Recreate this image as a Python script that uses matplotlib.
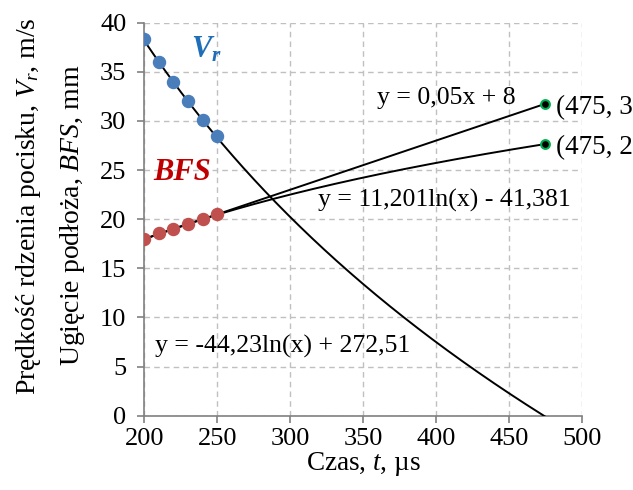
import numpy as np
import matplotlib
matplotlib.use("Agg")
import matplotlib.pyplot as plt

plt.rcParams['font.family'] = ['Liberation Serif', 'DejaVu Serif']
plt.rcParams['mathtext.fontset'] = 'custom'
plt.rcParams['mathtext.rm'] = 'Liberation Serif'
plt.rcParams['mathtext.it'] = 'Liberation Serif:italic'
plt.rcParams['mathtext.bf'] = 'Liberation Serif:bold:italic'

# measured points
t = [200, 210, 220, 230, 240, 250]
vr = [38.3, 36.0, 34.0, 32.0, 30.1, 28.5]
bfs = [18.0, 18.6, 19.0, 19.5, 20.0, 20.5]

# trend line coefficients (as printed on the chart)
vr_a, vr_b = -44.23, 272.51        # y = a ln(x) + b
lin_a, lin_b = 0.05, 8.0           # y = a x + b
log_a, log_b = 11.201, -41.381     # y = a ln(x) + b
t_end = 475

end_pts_x = [475, 475]
end_pts_y = [31.75, 27.65]
end_labels = ['(475, 31,75)', '(475, 27,65)']

xs = np.linspace(200, t_end, 300)

fig = plt.figure(figsize=(6.33, 4.9), dpi=100)
ax = fig.add_axes([0.228, 0.1516, 0.691, 0.802])

ax.plot(xs, vr_a * np.log(xs) + vr_b, color='black', lw=1.4, zorder=3)
ax.plot(xs, lin_a * xs + lin_b, color='black', lw=1.4, zorder=3)
ax.plot(xs, log_a * np.log(xs) + log_b, color='black', lw=1.4, zorder=3)

ax.scatter(t, vr, s=75, color='#4a7ebb', zorder=4)
ax.scatter(t, bfs, s=75, color='#c0504d', zorder=4)
ax.scatter(end_pts_x, end_pts_y, s=40, color='black', edgecolors='#00b050',
           linewidths=1.5, zorder=5)
for x, y, lab in zip(end_pts_x, end_pts_y, end_labels):
    ax.text(x + 7.5, y - 0.4, lab, fontsize=19.5, va='center', ha='left',
            clip_on=False)

ax.text(243, 37.3, r'$\mathbf{V_r}$', color='#1f6fb8', fontsize=22,
        ha='center', va='center')
ax.text(226, 24.8, 'BFS', color='#c00000', fontsize=22, fontweight='bold',
        fontstyle='italic', ha='center', va='center')

ax.text(359.5, 32.3, 'y = 0,05x + 8', fontsize=18.5, va='center')
ax.text(319, 21.9, 'y = 11,201ln(x) - 41,381', fontsize=18.5, va='center')
ax.text(207.5, 7.0, 'y = -44,23ln(x) + 272,51', fontsize=18.5, va='center')

ax.set_xlim(200, 500)
ax.set_ylim(0, 40)
ax.set_xticks(range(200, 501, 50))
ax.set_yticks(range(0, 41, 5))
ax.tick_params(labelsize=19, color='#808080', length=5, width=1.2)
ax.tick_params(axis='y', pad=8)
ax.grid(True, ls=(0, (4, 3)), color='#c0c0c0', lw=1)
ax.set_axisbelow(True)
for s in ['top', 'right']:
    ax.spines[s].set_visible(False)
for s in ['left', 'bottom']:
    ax.spines[s].set_color('#808080')
    ax.spines[s].set_linewidth(1.2)

ax.set_xlabel(r'Czas, $\it{t}$, µs', fontsize=19.5, labelpad=0)
fig.text(0.045, 0.58, r'Prędkość rdzenia pocisku, $\it{V_r}$, m/s', rotation=90,
         fontsize=20, ha='center', va='center')
fig.text(0.115, 0.56, r'Ugięcie podłoża, $\it{BFS}$, mm', rotation=90,
         fontsize=20, ha='center', va='center')

fig.savefig('out.png', dpi=100)
